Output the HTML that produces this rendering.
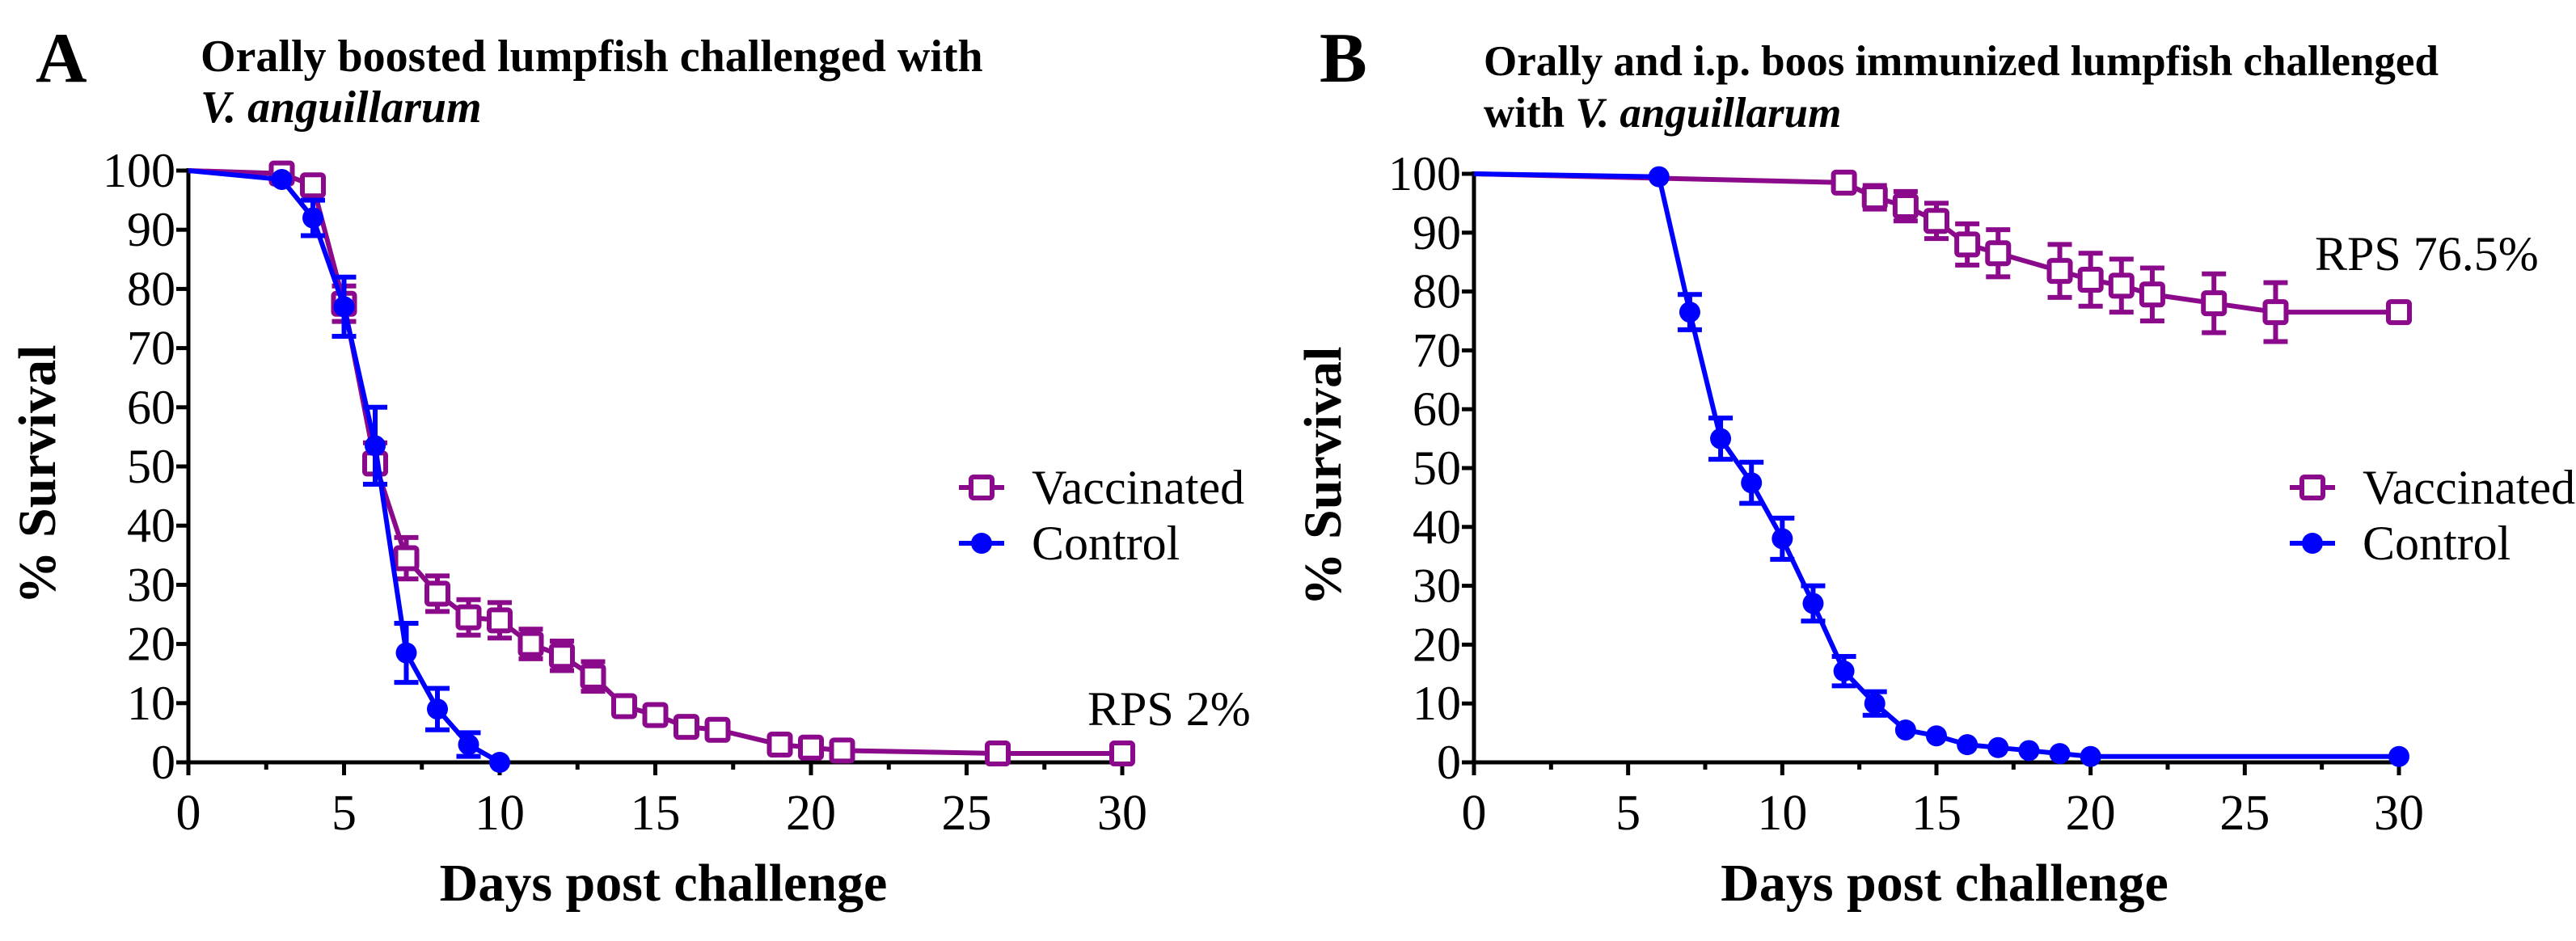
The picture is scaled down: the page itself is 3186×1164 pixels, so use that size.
<!DOCTYPE html>
<html><head><meta charset="utf-8">
<style>
html,body{margin:0;padding:0;background:#fff;}
svg, svg text{font-family:"Liberation Serif","Times New Roman",serif;}
</style></head>
<body>
<svg id="fig" width="3186" height="1159" viewBox="0 0 3186 1159" xmlns="http://www.w3.org/2000/svg" font-family="Liberation Serif, serif">
<rect width="3186" height="1159" fill="#fff"/>
<text x="44" y="101" font-size="88" font-weight="bold" font-family="Liberation Serif, serif">A</text>
<text font-size="56" font-weight="bold" font-family="Liberation Serif, serif"><tspan x="248" y="88">Orally boosted lumpfish challenged with</tspan><tspan x="248" y="151" font-style="italic">V. anguillarum</tspan></text>
<text x="1632" y="101" font-size="88" font-weight="bold" font-family="Liberation Serif, serif">B</text>
<text font-size="53" font-weight="bold" font-family="Liberation Serif, serif"><tspan x="1835" y="93">Orally and i.p. boos immunized lumpfish challenged</tspan><tspan x="1835" y="157">with <tspan font-style="italic">V. anguillarum</tspan></tspan></text>
<g id="pa" font-family="Liberation Serif, serif"></g>
<g id="pb" font-family="Liberation Serif, serif"></g>
</svg>
<script>
const aVacDays = [0,3,4,5,6,7,8,9,10,11,12,13,14,15,16,17,19,20,21,26,30];
const aVacVals = [100,99.5,97.5,77.5,50.5,34.5,28.5,24.5,24,20,18,14.5,9.5,8,6,5.5,3,2.5,2,1.5,1.5];
const aVacErr  = [0,1,1,3,3.5,3.5,3,3,3,2.5,2.5,2.5,1.5,1,0.5,0.5,0.5,0.5,0.5,0,0];
const aCtlDays = [0,3,4,5,6,7,8,9,10];
const aCtlVals = [100,98.5,92,77,53.5,18.5,9,3,0];
const aCtlErr  = [0,0.5,3,5,6.5,5,3.5,2,0];
const bVacDays = [0,12,13,14,15,16,17,19,20,21,22,24,26,30];
const bVacVals = [100,98.5,96,94.5,92,88,86.5,83.5,82,81,79.5,78,76.5,76.5];
const bVacErr  = [0,1,2,2.5,3,3.5,4,4.5,4.5,4.5,4.5,5,5,0];
const bCtlDays = [0,6,7,8,9,10,11,12,13,14,15,16,17,18,19,20,30];
const bCtlVals = [100,99.5,76.5,55,47.5,38,27,15.5,10,5.5,4.5,3,2.5,2,1.5,1,1];
const bCtlErr  = [0,0,3,3.5,3.5,3.5,3,2.5,2,0.5,0.5,0.5,0.5,0.5,0.5,0,0];
const xTicks = [0,5,10,15,20,25,30];
const yTicks = [0,10,20,30,40,50,60,70,80,90,100];

const NS = "http://www.w3.org/2000/svg";
const PUR = "#8b0a8b", BLU = "#0000ff";
function mk(parent, tag, attrs){const e=document.createElementNS(NS,tag);for(const k in attrs)e.setAttribute(k,attrs[k]);if(tag==='text')e.setAttribute('font-family','Liberation Serif, serif');parent.appendChild(e);return e;}

function panel(g, x0, x1, y0, y100, series, legX, legY, rps, rpsX, rpsY){
  const sx = d => x0 + d*(x1-x0)/30;
  const sy = v => y0 - v*(y0-y100)/100;
  let ax = mk(g,'line',{x1:x0,y1:y0,x2:x1+2,y2:y0,stroke:'#000','stroke-width':5});
   
  let ay = mk(g,'line',{x1:x0,y1:y0+16,x2:x0,y2:y100-3,stroke:'#000','stroke-width':5});
   
  for(let d=2.5; d<=30; d+=2.5){
    const major = (d%5===0);
    mk(g,'line',{x1:sx(d),y1:y0,x2:sx(d),y2:y0+(major?16:9),stroke:'#000','stroke-width':5});
  }
  xTicks.forEach(t=>{
    const tx = mk(g,'text',{x:sx(t),y:1026,'font-size':62,'text-anchor':'middle'});
    tx.textContent = t;
     
  });
  yTicks.forEach(t=>{
    mk(g,'line',{x1:x0-15,y1:sy(t),x2:x0,y2:sy(t),stroke:'#000','stroke-width':5});
    const ty = mk(g,'text',{x:x0-16,y:sy(t)+20,'font-size':60,'text-anchor':'end'});
    ty.textContent = t;
     
  });
  const yt = mk(g,'text',{x:0,y:0,'font-size':66,'font-weight':'bold','text-anchor':'middle',transform:`translate(${x0-165},${(y0+y100)/2+10}) rotate(-90)`});
  yt.textContent = '% Survival';
   
  const xt = mk(g,'text',{x:(x0+x1)/2+10,y:1114,'font-size':66,'font-weight':'bold','text-anchor':'middle'});
  xt.textContent = 'Days post challenge';
   

  series.forEach(s=>{
    const sg = mk(g,'g',{});
     
    const pts = s.days.map((d,i)=>sx(d)+','+sy(s.vals[i])).join(' ');
    mk(sg,'polyline',{points:pts,fill:'none',stroke:s.color,'stroke-width':6,'stroke-linejoin':'round'});
    s.days.forEach((d,i)=>{
      const e = s.err[i]; const cx=sx(d), cy=sy(s.vals[i]);
      if(e>0.9){
        const eb = mk(sg,'g',{stroke:s.color,'stroke-width':6});
         
        mk(eb,'line',{x1:cx,y1:sy(s.vals[i]+e),x2:cx,y2:sy(s.vals[i]-e)});
        mk(eb,'line',{x1:cx-15,y1:sy(s.vals[i]+e),x2:cx+15,y2:sy(s.vals[i]+e)});
        mk(eb,'line',{x1:cx-15,y1:sy(s.vals[i]-e),x2:cx+15,y2:sy(s.vals[i]-e)});
      }
      if(d===0) return;
      let m;
      if(s.square) m = mk(sg,'rect',{x:cx-13,y:cy-13,width:26,height:26,rx:3,fill:'#fff',stroke:s.color,'stroke-width':6});
      else m = mk(sg,'circle',{cx:cx,cy:cy,r:13,fill:s.color});
       
    });
  });
  const lg = mk(g,'g',{});
   
  series.forEach((s,k)=>{
    const ly = legY + k*69;
    const le = mk(lg,'g',{});
     
    mk(le,'line',{x1:legX-28,y1:ly,x2:legX+28,y2:ly,stroke:s.color,'stroke-width':6});
    if(s.square) mk(le,'rect',{x:legX-13,y:ly-13,width:26,height:26,rx:3,fill:'#fff',stroke:s.color,'stroke-width':6});
    else mk(le,'circle',{cx:legX,cy:ly,r:13,fill:s.color});
    const t = mk(le,'text',{x:legX+62,y:ly+20,'font-size':60});
    t.textContent = s.label;
  });
  const r = mk(g,'text',{x:rpsX,y:rpsY,'font-size':60});
  r.textContent = rps;
   
}

panel(document.getElementById('pa'), 233, 1388, 943, 211, [
  {name:'vaccinated',label:'Vaccinated',days:aVacDays,vals:aVacVals,err:aVacErr,color:PUR,square:true},
  {name:'control',label:'Control',days:aCtlDays,vals:aCtlVals,err:aCtlErr,color:BLU,square:false}
], 1214, 603, 'RPS 2%', 1345, 897);
panel(document.getElementById('pb'), 1823, 2967, 943, 215, [
  {name:'vaccinated',label:'Vaccinated',days:bVacDays,vals:bVacVals,err:bVacErr,color:PUR,square:true},
  {name:'control',label:'Control',days:bCtlDays,vals:bCtlVals,err:bCtlErr,color:BLU,square:false}
], 2860, 603, 'RPS 76.5%', 2863, 334);
</script>
</body></html>
